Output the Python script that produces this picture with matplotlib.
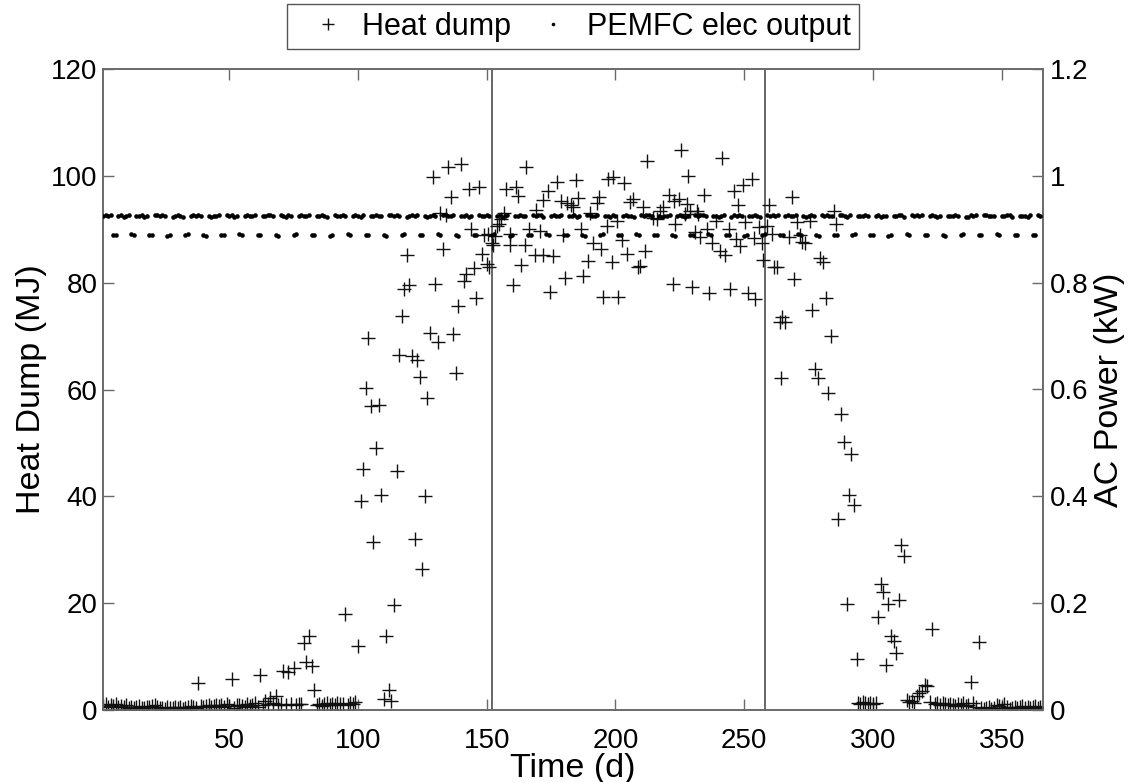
import matplotlib
matplotlib.use("Agg")
import matplotlib.pyplot as plt
from matplotlib.ticker import FuncFormatter

plt.rcParams['font.family'] = ['Liberation Sans', 'DejaVu Sans']

# ---------------- data ----------------
# Heat dump (MJ): low season days 1-100 (one value per day)
heat_low_start_days = list(range(1, 101))
heat_low_start_mj = [
    0.8, 1.1, 0.6, 0.9, 0.7, 1.1, 0.5, 0.8, 0.6, 0.9,
    0.4, 0.6, 0.3, 0.5, 0.7, 0.4, 0.3, 0.6, 0.5, 0.8,
    1.0, 0.6, 0.3, 0.4, 0.2, 0.5, 0.3, 0.4, 0.6, 0.3,
    0.5, 0.2, 0.4, 0.6, 0.7, 0.5, 0.4, 5.0, 0.8, 0.6,
    0.7, 0.9, 0.6, 0.8, 1.0, 0.7, 0.9, 0.6, 1.1, 0.8,
    5.8, 0.4, 0.9, 1.0, 0.7, 0.6, 1.2, 0.8, 0.9, 1.3,
    0.5, 6.5, 1.0, 1.6, 1.2, 2.2, 1.4, 2.6, 0.9, 1.1,
    7.3, 1.0, 7.2, 1.2, 7.8, 1.0, 1.1, 1.2, 12.6, 9.0,
    13.8, 8.3, 3.7, 1.0, 1.2, 0.8, 1.1, 1.3, 0.9, 1.2,
    1.0, 1.4, 1.1, 1.2, 18.0, 1.0, 1.3, 1.1, 1.5, 12.0,
]

# Heat dump (MJ): spring rise, days 101-152
heat_rise_days = list(range(101, 153))
heat_rise_mj = [
    39.1, 45.2, 60.2, 69.7, 57.0, 31.5, 49.0, 57.1, 40.3, 2.0,
    13.9, 3.8, 1.6, 19.6, 44.8, 66.4, 73.8, 78.9, 85.1, 79.5,
    66.3, 32.0, 65.5, 62.3, 26.4, 40.1, 58.4, 70.5, 99.7, 79.7,
    68.8, 93.1, 86.3, 92.6, 101.6, 96.1, 70.3, 63.1, 75.6, 102.2,
    80.3, 81.6, 97.6, 90.1, 82.7, 77.1, 98.0, 85.4, 89.0, 83.5,
    83.0, 87.4,
]

# Heat dump (MJ): summer plateau and autumn fall (day positions as read)
heat_summer_days = [
    150.6, 152.5, 153.1, 153.8, 154.8, 155.7, 156.6, 157.5, 159.0, 159.2,
    160.3, 161.4, 162.2, 163.5, 164.8, 165.4, 166.5, 168.7, 169.3, 170.6,
    171.7, 171.9, 173.6, 174.5, 175.6, 177.4, 178.7, 179.7, 180.4, 181.0,
    182.6, 183.6, 184.5, 185.5, 186.8, 187.2, 189.4, 190.1, 191.1, 192.7,
    193.7, 194.4, 195.3, 196.6, 196.9, 198.5, 199.2, 200.5, 201.1, 202.4,
    203.4, 204.6, 205.6, 206.9, 208.9, 209.5, 210.6, 211.5, 212.4, 214.7,
    216.0, 217.3, 218.6, 220.6, 222.5, 222.8, 223.2, 224.8, 225.5, 227.0,
    227.7, 228.3, 229.0, 229.6, 230.9, 231.6, 232.2, 232.9, 234.4, 235.5,
    236.5, 237.4, 239.1, 240.7, 241.3, 242.6, 243.9, 244.6, 245.9, 246.9,
    247.4, 248.4, 249.7, 250.4, 251.3, 253.0, 253.6, 254.3, 255.6, 256.9,
    257.3, 258.8, 259.5, 260.8, 261.4, 262.7, 263.7, 264.4, 264.6, 265.9,
    267.2, 268.5, 269.5, 270.5, 271.5, 272.4, 273.7, 275.7, 276.3, 277.6,
    278.5, 279.6, 280.6, 281.9, 282.4, 283.5, 284.7, 285.8, 286.4, 287.6,
    288.6, 289.7, 290.6, 291.6, 292.5, 293.6,
]
heat_summer_mj = [
    89.1, 87.1, 88.8, 90.7, 91.0, 92.0, 93.1, 97.5, 87.1, 89.2,
    79.6, 98.0, 96.3, 83.4, 87.1, 101.6, 90.0, 85.2, 93.6, 89.6,
    85.2, 95.5, 97.1, 78.2, 84.9, 98.8, 95.3, 89.0, 80.9, 95.0,
    94.6, 94.2, 99.2, 95.9, 90.0, 81.2, 84.1, 93.1, 87.4, 95.0,
    96.1, 86.3, 77.3, 90.7, 99.4, 83.8, 99.8, 91.6, 77.4, 88.0,
    98.6, 85.4, 95.1, 95.6, 82.9, 83.2, 94.2, 85.9, 102.8, 92.1,
    91.9, 93.5, 94.2, 96.4, 79.8, 95.3, 91.0, 95.6, 104.8, 92.8,
    94.7, 100.0, 93.5, 79.1, 89.4, 93.5, 92.8, 88.5, 96.4, 90.0,
    78.0, 87.5, 91.5, 86.0, 103.3, 85.2, 90.0, 78.8, 97.2, 88.2,
    94.6, 86.9, 98.2, 91.4, 78.1, 99.5, 88.3, 77.0, 90.5, 87.4,
    84.2, 90.7, 94.6, 89.2, 82.9, 82.9, 72.7, 62.2, 73.5, 72.7,
    88.6, 96.1, 80.6, 91.4, 89.0, 87.6, 87.4, 91.5, 74.9, 63.9,
    62.2, 84.7, 83.9, 77.2, 59.4, 70.1, 93.4, 91.0, 35.8, 55.4,
    50.2, 19.8, 40.2, 47.9, 38.3, 9.6,
]

# Heat dump (MJ): late autumn / winter, days 294-365
heat_late_days = list(range(294, 366))
heat_late_mj = [
    1.4, 1.2, 1.5, 1.3, 1.1, 1.4, 1.2, 1.3,
    17.5, 23.5, 22.0, 8.4, 19.8, 13.8, 13.0, 10.6, 20.6, 30.8, 28.9,
    1.8, 1.5, 1.6, 1.3, 2.6, 3.1, 3.6, 4.6, 4.4, 1.5,
    15.2, 1.2, 1.4, 1.0, 1.3, 1.1, 0.9, 1.2, 1.0, 0.8,
    1.1, 0.9, 1.3, 0.8, 1.0, 5.2, 1.4, 0.6, 12.8, 0.4,
    0.2, 0.3, 0.5, 0.2, 0.4, 1.0, 0.7, 0.3, 1.2, 0.5,
    0.2, 0.4, 0.6, 0.3, 0.5, 0.8, 0.4, 0.6, 0.3, 0.5,
    0.7, 0.4, 0.6,
]

# PEMFC electrical output (kW), one value per day, days 1-365
elec_days = list(range(1, 366))
elec_kw = [
    0.925, 0.927, 0.924, 0.926, 0.890, 0.889, 0.924,
    0.926, 0.923, 0.925, 0.927, 0.891, 0.889, 0.925,
    0.924, 0.926, 0.923, 0.925, 0.889, 0.890, 0.926,
    0.927, 0.924, 0.926, 0.924, 0.888, 0.890, 0.923,
    0.925, 0.927, 0.925, 0.923, 0.890, 0.891, 0.924,
    0.926, 0.924, 0.927, 0.925, 0.889, 0.888, 0.925,
    0.923, 0.925, 0.924, 0.926, 0.890, 0.889, 0.927,
    0.925, 0.926, 0.923, 0.924, 0.891, 0.890, 0.924,
    0.927, 0.924, 0.925, 0.926, 0.889, 0.890, 0.925,
    0.924, 0.926, 0.927, 0.924, 0.890, 0.888, 0.926,
    0.925, 0.923, 0.926, 0.925, 0.889, 0.891, 0.924,
    0.926, 0.925, 0.924, 0.927, 0.890, 0.889, 0.925,
    0.924, 0.927, 0.925, 0.923, 0.888, 0.890, 0.926,
    0.925, 0.924, 0.926, 0.925, 0.891, 0.889, 0.924,
    0.927, 0.925, 0.923, 0.926, 0.890, 0.890, 0.925,
    0.924, 0.926, 0.925, 0.924, 0.889, 0.888, 0.927,
    0.926, 0.924, 0.927, 0.925, 0.890, 0.891, 0.923,
    0.925, 0.926, 0.924, 0.926, 0.889, 0.890, 0.925,
    0.923, 0.925, 0.927, 0.924, 0.891, 0.889, 0.926,
    0.926, 0.924, 0.925, 0.927, 0.890, 0.888, 0.924,
    0.925, 0.927, 0.923, 0.925, 0.889, 0.890, 0.926,
    0.924, 0.925, 0.926, 0.924, 0.890, 0.891, 0.925,
    0.927, 0.923, 0.925, 0.926, 0.888, 0.889, 0.924,
    0.925, 0.926, 0.924, 0.925, 0.890, 0.890, 0.927,
    0.924, 0.927, 0.926, 0.923, 0.891, 0.889, 0.925,
    0.926, 0.924, 0.925, 0.927, 0.889, 0.890, 0.924,
    0.925, 0.926, 0.923, 0.924, 0.890, 0.888, 0.926,
    0.927, 0.925, 0.924, 0.926, 0.889, 0.891, 0.925,
    0.924, 0.923, 0.927, 0.925, 0.890, 0.889, 0.924,
    0.926, 0.925, 0.924, 0.923, 0.891, 0.890, 0.926,
    0.925, 0.927, 0.926, 0.924, 0.889, 0.890, 0.925,
    0.923, 0.924, 0.925, 0.927, 0.890, 0.888, 0.924,
    0.926, 0.925, 0.923, 0.925, 0.889, 0.889, 0.927,
    0.924, 0.926, 0.927, 0.924, 0.891, 0.890, 0.925,
    0.925, 0.923, 0.924, 0.926, 0.890, 0.889, 0.923,
    0.927, 0.925, 0.926, 0.925, 0.888, 0.890, 0.924,
    0.924, 0.926, 0.925, 0.923, 0.889, 0.891, 0.926,
    0.925, 0.927, 0.924, 0.926, 0.890, 0.889, 0.925,
    0.926, 0.924, 0.925, 0.927, 0.891, 0.890, 0.924,
    0.923, 0.925, 0.926, 0.924, 0.889, 0.888, 0.926,
    0.925, 0.926, 0.924, 0.925, 0.890, 0.890, 0.927,
    0.927, 0.924, 0.923, 0.926, 0.889, 0.891, 0.925,
    0.924, 0.925, 0.927, 0.925, 0.890, 0.889, 0.924,
    0.926, 0.923, 0.925, 0.924, 0.888, 0.890, 0.925,
    0.925, 0.927, 0.926, 0.923, 0.891, 0.889, 0.926,
    0.924, 0.926, 0.924, 0.927, 0.890, 0.890, 0.924,
    0.927, 0.925, 0.923, 0.925, 0.889, 0.888, 0.925,
    0.925, 0.924, 0.926, 0.924, 0.890, 0.891, 0.923,
    0.923, 0.926, 0.925, 0.927, 0.889, 0.889, 0.926,
    0.926, 0.925, 0.924, 0.925, 0.891, 0.890, 0.925,
    0.924, 0.927, 0.926, 0.923, 0.890, 0.889, 0.924,
    0.925, 0.924, 0.923, 0.926, 0.889, 0.890, 0.926,
    0.925,
]

season_lines = [152, 258]
x_ticks = [50, 100, 150, 200, 250, 300, 350]
left_ticks = [0, 20, 40, 60, 80, 100, 120]
right_ticks = [0, 0.2, 0.4, 0.6, 0.8, 1.0, 1.2]

# ---------------- plot ----------------
W, H = 1134, 782
fig = plt.figure(figsize=(W / 100, H / 100), dpi=100)
ax = fig.add_axes([103 / W, (H - 710) / H, 940 / W, 641 / H])
ax2 = ax.twinx()

spine_col = '#6a6a6a'
fs_tick = 20
fs_label = 24.5

heat_days = heat_low_start_days + heat_rise_days + heat_summer_days + heat_late_days
heat_mj = heat_low_start_mj + heat_rise_mj + heat_summer_mj + heat_late_mj

h1, = ax.plot(heat_days, heat_mj, linestyle='none', marker='+', ms=9.5, mew=1.0,
              color='#111111', label='Heat dump', zorder=3)
for d in season_lines:
    ax.axvline(d, color='#5a5a5a', lw=1.3, zorder=1)

h2, = ax2.plot(elec_days, elec_kw, linestyle='none', marker='o', ms=3.3, mew=0,
               color='black', label='PEMFC elec output', zorder=3)

ax.set_xlim(1, 366)
ax.set_ylim(0, 120)
ax2.set_ylim(0, 1.2)
ax.set_xticks(x_ticks)
ax.set_yticks(left_ticks)
ax2.set_yticks(right_ticks)
ax2.yaxis.set_major_formatter(FuncFormatter(lambda v, p: '%g' % round(v, 2)))

for a in (ax, ax2):
    for s in a.spines.values():
        s.set_color(spine_col)
        s.set_linewidth(1.2)
ax.tick_params(axis='x', direction='in', length=8, width=1.0, color=spine_col,
               labelsize=fs_tick, labelcolor='black', top=True, pad=13)
ax.tick_params(axis='y', direction='in', length=8, width=1.0, color=spine_col,
               labelsize=fs_tick, labelcolor='black', right=False, pad=4)
ax2.tick_params(axis='y', direction='in', length=8, width=1.0, color=spine_col,
                labelsize=fs_tick, labelcolor='black', pad=5)

ax.set_xlabel('Time (d)', fontsize=fs_label, labelpad=-1)
ax.set_ylabel('Heat Dump (MJ)', fontsize=fs_label, labelpad=3)
ax2.set_ylabel('AC Power (kW)', fontsize=fs_label, rotation=90, labelpad=4)

leg = fig.legend([h1, h2], ['Heat dump', 'PEMFC elec output'], loc='upper center',
                 bbox_to_anchor=(0.505, 0.995), ncol=2, fontsize=22, frameon=True,
                 fancybox=False, edgecolor='#555555', framealpha=1,
                 handlelength=2.2, handletextpad=0.0, columnspacing=0.3,
                 borderpad=0.25, borderaxespad=0.0, markerscale=1.0)
leg.get_frame().set_linewidth(1.0)
leg.legend_handles[0].set_markersize(9)
leg.legend_handles[1].set_markersize(2.6)

fig.savefig('out.png', dpi=100)
